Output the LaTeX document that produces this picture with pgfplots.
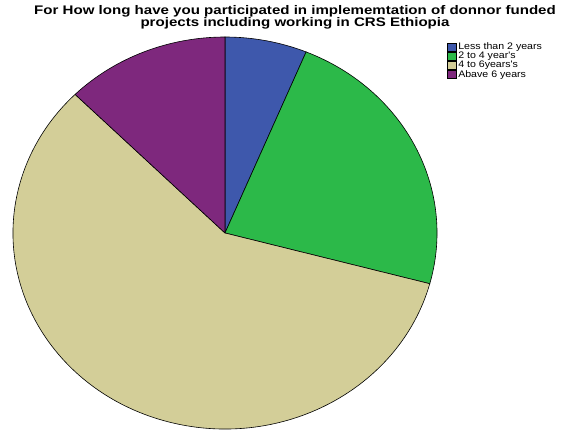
\documentclass[border=0pt]{standalone}
\usepackage{fontspec}
\setmainfont{Liberation Sans}
\newfontfamily\titlefont[FakeStretch=1.21]{Liberation Sans}
\newfontfamily\legfont[FakeStretch=1.12]{Liberation Sans}
\usepackage{pgfplots}
\usepackage{pgfplotstable}
\pgfplotsset{compat=1.18}
\definecolor{pieblue}{RGB}{62,88,172}
\definecolor{piegreen}{RGB}{44,185,73}
\definecolor{piebeige}{RGB}{211,206,152}
\definecolor{piepurple}{RGB}{126,40,125}
\pgfplotstableread{
group count
1 3
2 11
3 28
4 6
}\pietable
\begin{document}
\begin{tikzpicture}
\pgfplotstablegetelem{0}{count}\of\pietable \let\cA\pgfplotsretval
\pgfplotstablegetelem{1}{count}\of\pietable \let\cB\pgfplotsretval
\pgfplotstablegetelem{2}{count}\of\pietable \let\cC\pgfplotsretval
\pgfplotstablegetelem{3}{count}\of\pietable \let\cD\pgfplotsretval
\pgfmathsetmacro\tot{\cA+\cB+\cC+\cD}
\pgfmathsetmacro\aO{90}
\pgfmathsetmacro\aA{90-360*(\cA/\tot)}
\pgfmathsetmacro\aB{90-360*((\cA+\cB)/\tot)}
\pgfmathsetmacro\aC{90-360*((\cA+\cB+\cC)/\tot)}
\pgfmathsetmacro\aD{90-360*((\cA+\cB+\cC+\cD)/\tot)}
\begin{axis}[
  at={(13bp,1bp)}, anchor=south west,
  scale only axis, width=424bp, height=392bp,
  xmin=-1, xmax=1, ymin=-1, ymax=1,
  hide axis, clip=false,
  legend style={at={(1.024,0.99)}, anchor=north west, draw=none,
    inner sep=0pt, font=\legfont\fontsize{9.5}{9.5}\selectfont, row sep=-2bp,
    nodes={inner sep=1.5bp}},
  legend cell align=left,
  legend image code/.code={\draw[#1] (0bp,-4bp) rectangle (9bp,4bp);},
]
\addlegendimage{fill=pieblue, draw=black, line width=0.4pt}
\addlegendentry{Less than 2 years}
\addlegendimage{fill=piegreen, draw=black, line width=0.4pt}
\addlegendentry{2 to 4 year's}
\addlegendimage{fill=piebeige, draw=black, line width=0.4pt}
\addlegendentry{4 to 6years's}
\addlegendimage{fill=piepurple, draw=black, line width=0.4pt}
\addlegendentry{Abave 6 years}
\filldraw[fill=pieblue, draw=black, line width=0.6pt] (axis cs:0,0) -- (axis cs:{cos(\aO)},{sin(\aO)}) arc[start angle=\aO, end angle=\aA, x radius=212bp, y radius=196bp] -- cycle;
\filldraw[fill=piegreen, draw=black, line width=0.6pt] (axis cs:0,0) -- (axis cs:{cos(\aA)},{sin(\aA)}) arc[start angle=\aA, end angle=\aB, x radius=212bp, y radius=196bp] -- cycle;
\filldraw[fill=piebeige, draw=black, line width=0.6pt] (axis cs:0,0) -- (axis cs:{cos(\aB)},{sin(\aB)}) arc[start angle=\aB, end angle=\aC, x radius=212bp, y radius=196bp] -- cycle;
\filldraw[fill=piepurple, draw=black, line width=0.6pt] (axis cs:0,0) -- (axis cs:{cos(\aC)},{sin(\aC)}) arc[start angle=\aC, end angle=\aD, x radius=212bp, y radius=196bp] -- cycle;
\end{axis}
\node[align=center, font=\titlefont\bfseries\fontsize{12.5}{12}\selectfont, anchor=north, inner sep=0pt] at (295bp,425bp)
  {For How long have you participated in implememtation of donnor funded\\projects including working in CRS Ethiopia};
\pgfresetboundingbox
\path (0,0) rectangle (565bp,430bp);
\end{tikzpicture}
\end{document}
